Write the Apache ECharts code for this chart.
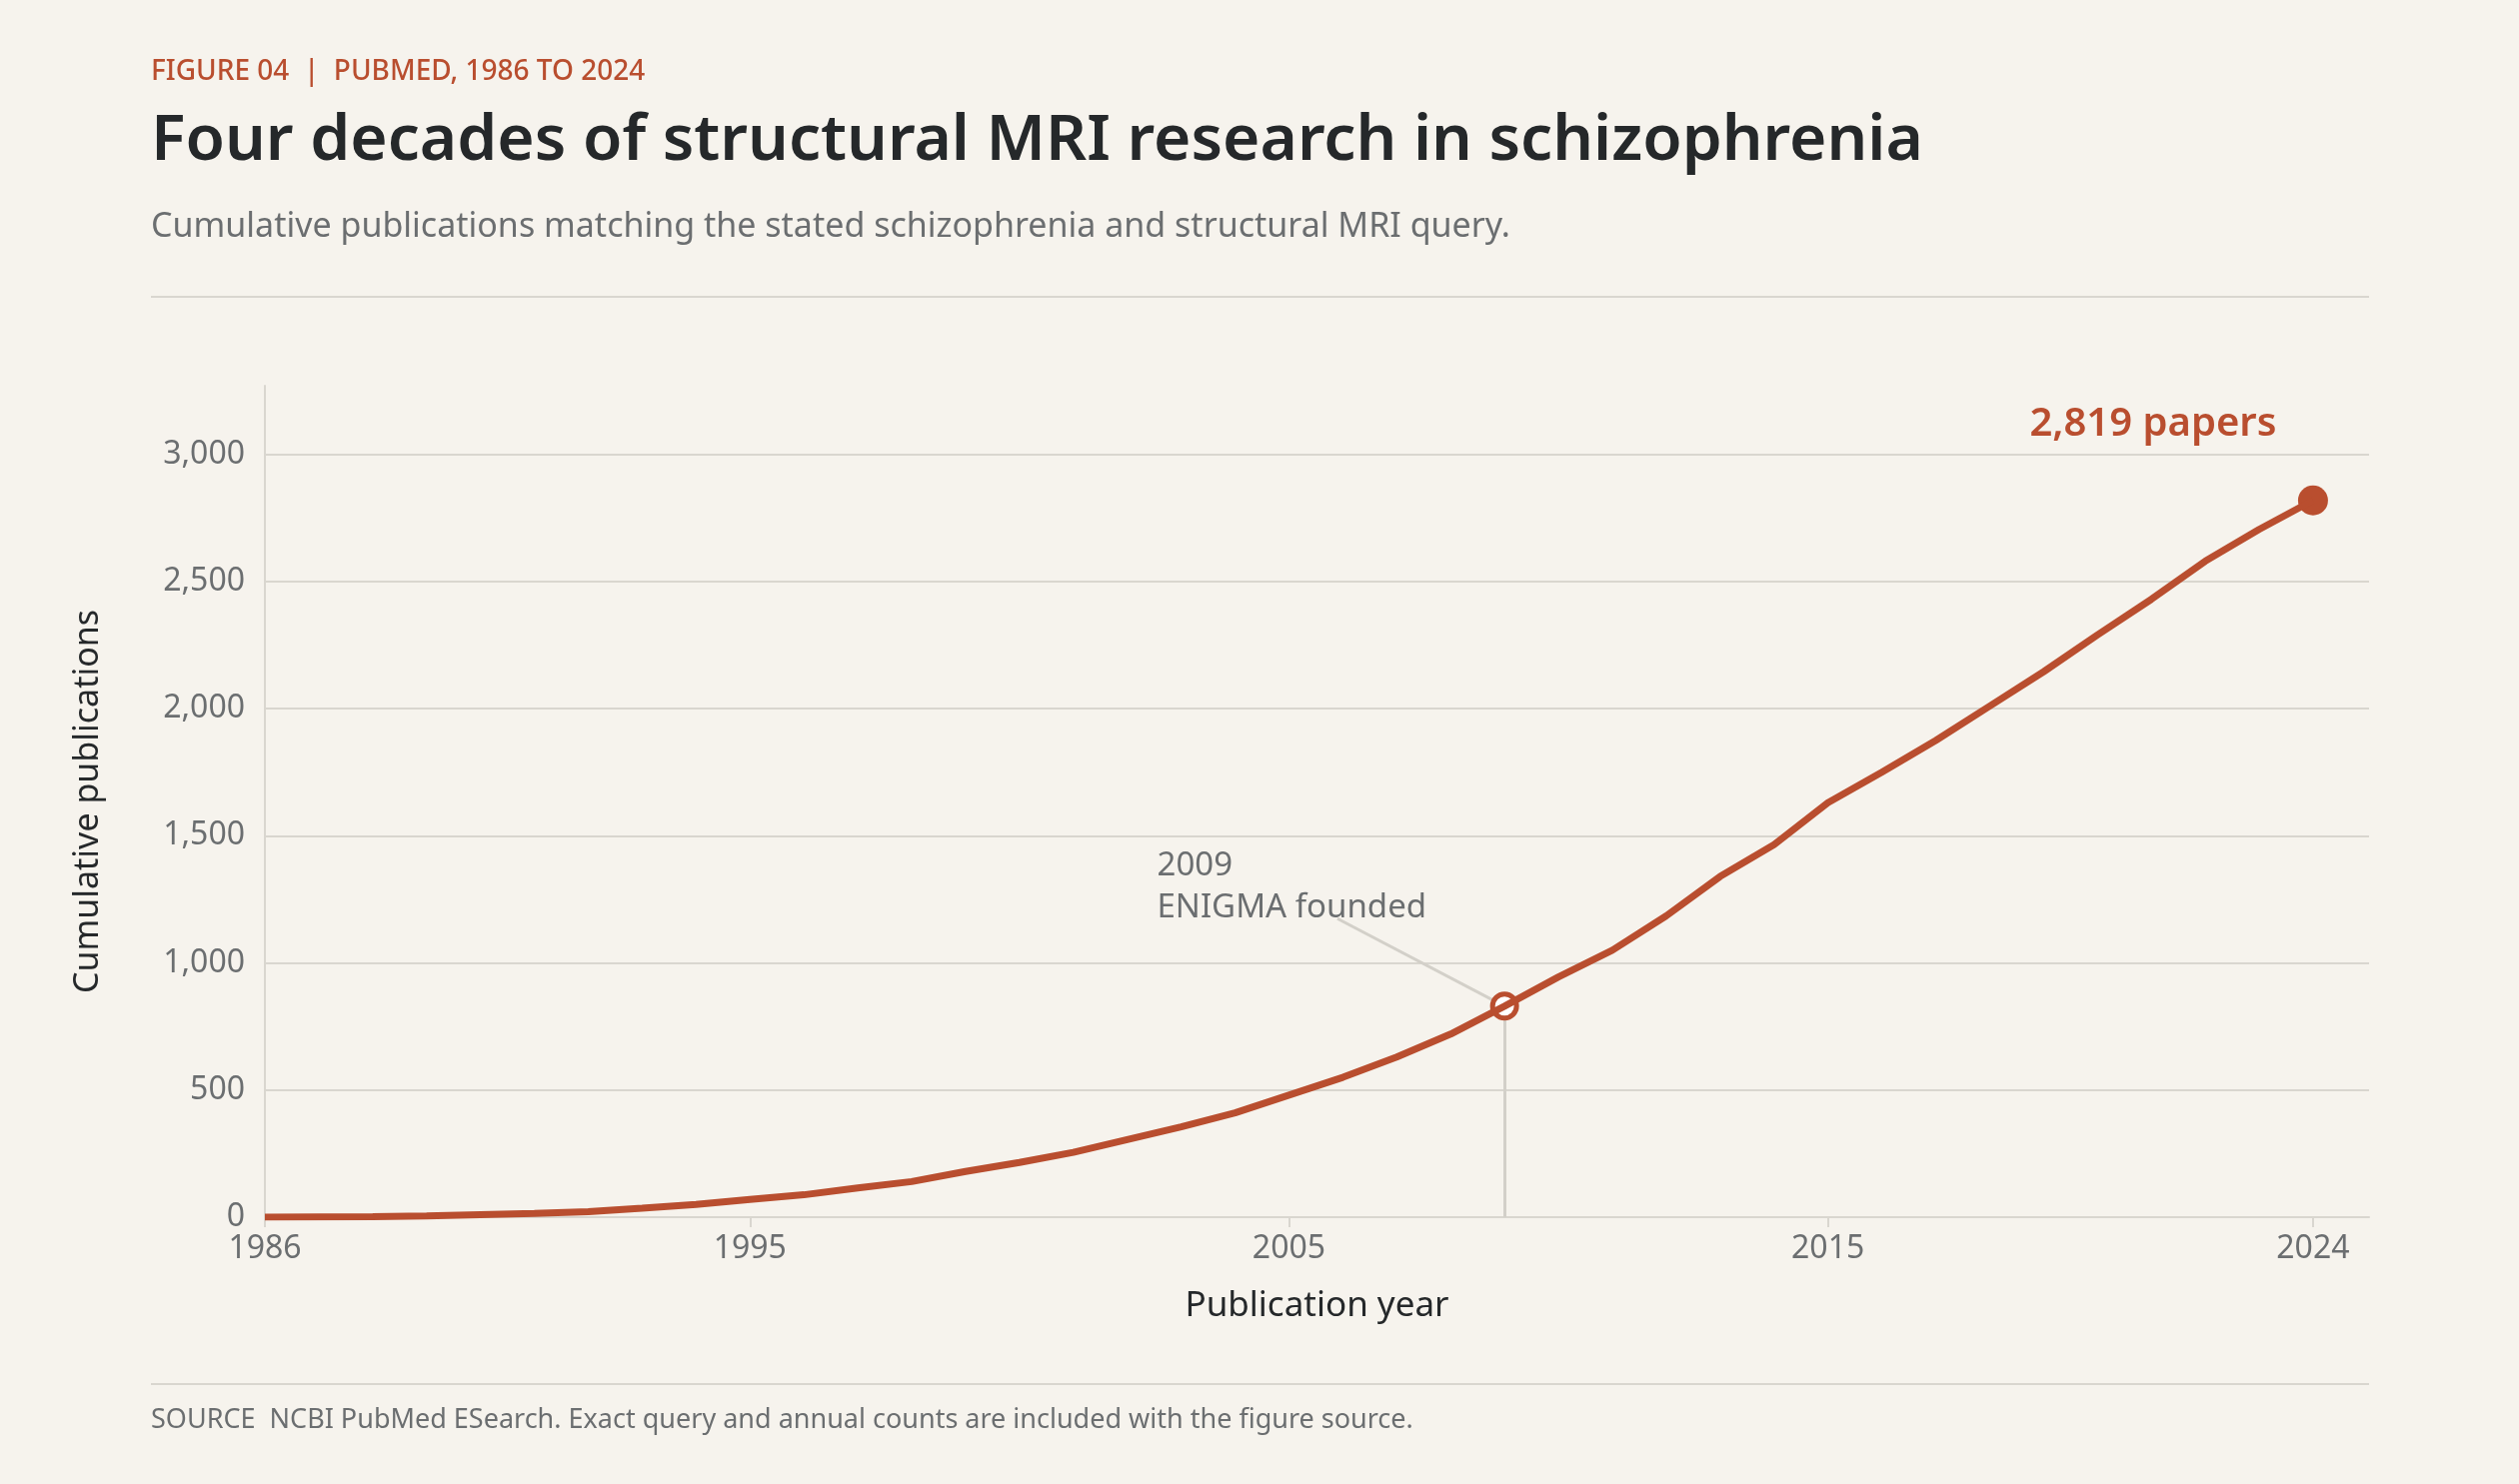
<!DOCTYPE html>
<html>
<head>
<meta charset="utf-8">
<script src="https://cdn.jsdelivr.net/npm/echarts@6/dist/echarts.min.js"></script>
<style>html,body{margin:0;background:#f6f3ed}</style>
</head>
<body>
<div id="main" style="width:2520px;height:1485px"></div>
<script>
var years = [];
for (var y = 1986; y <= 2024; y++) years.push(y);
var cumulative = [0, 1, 2, 5, 10, 15, 22, 35, 50, 70, 88, 115, 140, 180, 215, 255, 305, 355, 410, 480,
  550, 630, 720, 830, 945, 1050, 1185, 1340, 1465, 1630, 1750, 1875, 2010, 2145, 2290, 2430, 2580, 2705, 2819];
var xTicks = [1986, 1995, 2005, 2015, 2024];
var eventYear = 2009, eventLabel = ['2009', 'ENIGMA founded'];
var endLabel = '2,819 papers';

var FONT = 'Noto Sans';
var RUST = '#b94e2f', GRID = '#d9d6cf', MUTED = '#6b6e70';
var points = years.map(function (yr, i) { return [yr, cumulative[i]]; });
var evVal = cumulative[years.indexOf(eventYear)];

var chart = echarts.init(document.getElementById('main'));
chart.setOption({
  backgroundColor: '#f6f3ed',
  textStyle: { fontFamily: FONT },
  grid: { left: 265, right: 150, top: 386, bottom: 267 },
  graphic: [
    { type: 'text', left: 151, top: 58, style: { text: 'FIGURE 04  |  PUBMED, 1986 TO 2024', fill: RUST, font: '500 28px ' + FONT } },
    { type: 'text', left: 151, top: 110, style: { text: 'Four decades of structural MRI research in schizophrenia', fill: '#25282a', font: '600 64px ' + FONT } },
    { type: 'text', left: 151, top: 210, style: { text: 'Cumulative publications matching the stated schizophrenia and structural MRI query.', fill: MUTED, font: '34px ' + FONT } },
    { type: 'rect', shape: { x: 151, y: 296, width: 2219, height: 2 }, style: { fill: GRID } },
    { type: 'rect', shape: { x: 151, y: 1384, width: 2219, height: 2 }, style: { fill: GRID } },
    { type: 'text', left: 151, top: 1408, style: { text: 'SOURCE  NCBI PubMed ESearch. Exact query and annual counts are included with the figure source.', fill: MUTED, font: '27px ' + FONT } }
  ],
  xAxis: {
    type: 'value', min: 1986, max: 2025.04,
    name: 'Publication year', nameLocation: 'middle', nameGap: 72,
    nameTextStyle: { fontSize: 35, color: '#25282a' },
    axisLine: { lineStyle: { color: GRID, width: 2 } },
    axisTick: { show: true, customValues: xTicks, length: 10, lineStyle: { color: GRID, width: 2 } },
    axisLabel: { customValues: xTicks, fontSize: 32, color: MUTED, margin: 16, formatter: function (v) { return String(v); } },
    splitLine: { show: false }
  },
  yAxis: {
    type: 'value', min: 0, max: 3270, interval: 500,
    name: 'Cumulative publications', nameLocation: 'middle', nameGap: 160, nameRotate: 90,
    nameTextStyle: { fontSize: 34, color: '#25282a' },
    axisLine: { show: true, lineStyle: { color: GRID, width: 2 } },
    axisTick: { show: false },
    axisLabel: { fontSize: 32, color: MUTED, margin: 20, showMaxLabel: false,
      formatter: function (v) { return v.toLocaleString('en-US'); } },
    splitLine: { showMaxLine: false, lineStyle: { color: GRID, width: 2 } }
  },
  series: [{
    type: 'line', data: points, showSymbol: false, z: 5,
    lineStyle: { color: RUST, width: 7 },
    markLine: {
      silent: true, symbol: 'none', label: { show: false },
      lineStyle: { color: '#d3d0c9', width: 3, type: 'solid' },
      data: [
        [{ coord: [eventYear, evVal] }, { coord: [eventYear, 0] }],
        [{ coord: [eventYear, evVal] }, { coord: [2005.9, 1174] }]
      ]
    },
    markPoint: {
      silent: true, symbol: 'circle', animation: false,
      data: [
        { coord: [eventYear, evVal], symbolSize: 24, itemStyle: { color: '#fff', borderColor: RUST, borderWidth: 5 } },
        { coord: [2024, cumulative[cumulative.length - 1]], symbolSize: 30, itemStyle: { color: RUST },
          label: { show: true, formatter: endLabel, position: 'top', offset: [-160, -36], color: RUST, fontSize: 40, fontWeight: 600, fontFamily: FONT } },
        { coord: [2004.5, 1300], symbolSize: 0, label: { show: true, formatter: eventLabel.join('\n'), position: 'right',
          offset: [-110, 0], color: MUTED, fontSize: 33, lineHeight: 42, fontFamily: FONT, align: 'left' } }
      ]
    }
  }]
});
</script>
</body>
</html>
